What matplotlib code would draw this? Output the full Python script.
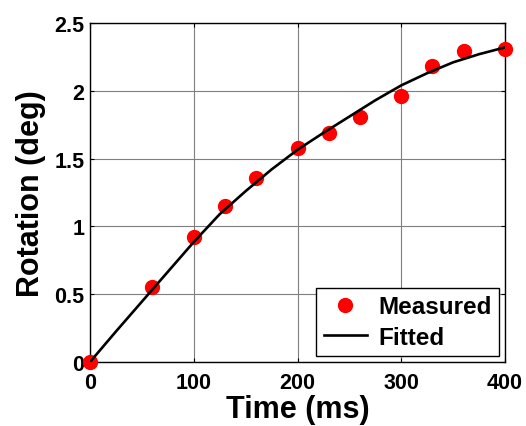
import matplotlib
matplotlib.use("Agg")
import matplotlib.pyplot as plt

plt.rcParams['font.family'] = ['Liberation Sans', 'DejaVu Sans']
plt.rcParams['font.weight'] = 'bold'

# Measured data
time_measured = [0, 60, 100, 130, 160, 200, 230, 260, 300, 330, 360, 400]
rot_measured = [0.0, 0.55, 0.92, 1.15, 1.36, 1.58, 1.69, 1.81, 1.96, 2.18, 2.29, 2.31]

# Fitted curve
time_fit = [0, 25, 50, 75, 100, 125, 150, 175, 200, 225, 250, 275, 300, 325, 350, 375, 400]
rot_fit = [0.0, 0.225, 0.445, 0.665, 0.885, 1.09, 1.26, 1.42, 1.565, 1.69, 1.81, 1.93, 2.04, 2.13, 2.21, 2.27, 2.32]

xticks = [0, 100, 200, 300, 400]
yticks = [0, 0.5, 1, 1.5, 2, 2.5]
ytick_labels = ['0', '0.5', '1', '1.5', '2', '2.5']

fig = plt.figure(figsize=(5.26, 4.27), dpi=100)
ax = fig.add_axes([0.1711, 0.1499, 0.789, 0.7939])

ax.plot(time_measured, rot_measured, 'o', color='red', markersize=10,
        label='Measured', zorder=3, clip_on=False)
ax.plot(time_fit, rot_fit, '-', color='black', linewidth=1.9, label='Fitted', zorder=4)

ax.set_xlim(0, 400)
ax.set_ylim(0, 2.5)
ax.set_xticks(xticks)
ax.set_yticks(yticks)
ax.set_yticklabels(ytick_labels)
ax.grid(True, color='#7f7f7f', linewidth=0.8, linestyle='-')
ax.set_axisbelow(True)
ax.tick_params(direction='in', top=True, right=True, length=3, width=0.8,
               labelsize=15.5)
ax.tick_params(axis='x', pad=7)
ax.tick_params(axis='y', pad=4)
for lab in ax.get_xticklabels() + ax.get_yticklabels():
    lab.set_fontweight('bold')
for s in ax.spines.values():
    s.set_linewidth(1.0)
    s.set_color('black')

ax.set_xlabel('Time (ms)', fontsize=22, fontweight='bold', labelpad=1)
ax.set_ylabel('Rotation (deg)', fontsize=22, fontweight='bold', labelpad=6)

leg = ax.legend(loc='lower right', numpoints=1, fontsize=17.5, fancybox=False,
                framealpha=1, edgecolor='black', handlelength=1.8,
                borderaxespad=0.25, handletextpad=0.45, borderpad=0.3,
                labelspacing=0.3)
leg.get_frame().set_linewidth(1.0)
for t in leg.get_texts():
    t.set_fontweight('bold')

fig.savefig('out.png', dpi=100)
